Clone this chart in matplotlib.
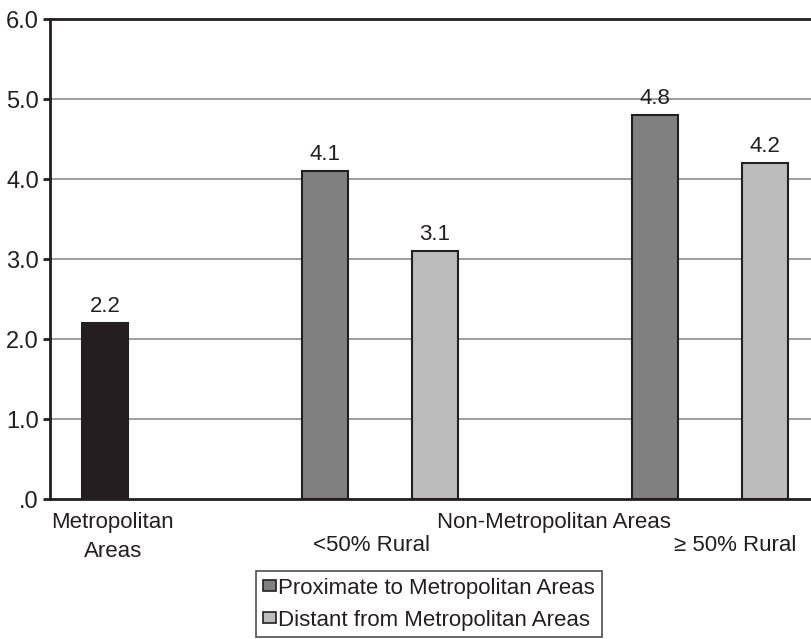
import matplotlib
matplotlib.use("Agg")
import matplotlib.pyplot as plt
from matplotlib.patches import Patch

plt.rcParams["font.family"] = ["Liberation Sans", "DejaVu Sans"]

# Data
groups = ["Metropolitan Areas", "<50% Rural Proximate", "<50% Rural Distant",
          "≥ 50% Rural Proximate", "≥ 50% Rural Distant"]
values = [2.2, 4.1, 3.1, 4.8, 4.2]
value_labels = ["2.2", "4.1", "3.1", "4.8", "4.2"]
positions = [0, 2, 3, 5, 6]
y_ticks = [0, 1, 2, 3, 4, 5, 6]
y_tick_labels = [".0", "1.0", "2.0", "3.0", "4.0", "5.0", "6.0"]
legend_labels = ["Proximate to Metropolitan Areas", "Distant from Metropolitan Areas"]

ink = "#231f20"
c_metro = "#231f20"
c_prox = "#808080"
c_dist = "#bcbcbc"
colors = [c_metro, c_prox, c_dist, c_prox, c_dist]
fs = 16

fig = plt.figure(figsize=(8.12, 6.39), dpi=100)
ax = fig.add_axes([50 / 812, 140 / 639, 770 / 812, 480 / 639])

ax.bar(positions, values, width=0.42, color=colors, edgecolor=ink,
       linewidth=1.5, zorder=3)
for x, v, t in zip(positions, values, value_labels):
    ax.text(x, v + 0.08, t, ha="center", va="bottom", fontsize=fs, color=ink)

ax.set_xlim(-0.5, 6.5)
ax.set_ylim(0, 6)
ax.set_yticks(y_ticks)
ax.set_yticklabels(y_tick_labels, fontsize=17, color=ink)
ax.set_xticks([])
for y in y_ticks[1:-1]:
    ax.axhline(y, color="#8c8c8c", linewidth=1.2, zorder=1)
ax.tick_params(axis="y", direction="out", length=5, width=2, color=ink, pad=3)
for s in ["left", "bottom", "top"]:
    ax.spines[s].set_color(ink)
    ax.spines[s].set_linewidth(2)
ax.spines["right"].set_visible(False)

# Category labels below the axis
tr = ax.get_xaxis_transform()
ax.text(0.07, -0.028, "Metropolitan\nAreas", transform=tr, ha="center", va="top",
        fontsize=fs, color=ink, linespacing=1.45)
ax.text(4.08, -0.028, "Non-Metropolitan Areas", transform=tr, ha="center", va="top",
        fontsize=fs, color=ink)
ax.text(2.42, -0.074, "<50% Rural", transform=tr, ha="center", va="top",
        fontsize=fs, color=ink)
ax.text(5.73, -0.074, "≥ 50% Rural", transform=tr, ha="center", va="top",
        fontsize=fs, color=ink)

handles = [Patch(facecolor=c_prox, edgecolor=ink, linewidth=1.2),
           Patch(facecolor=c_dist, edgecolor=ink, linewidth=1.2)]
leg = fig.legend(handles, legend_labels, loc="upper left",
                 bbox_to_anchor=(256 / 812, 1 - 571 / 639), fontsize=fs,
                 frameon=True, fancybox=False, handlelength=0.6, handleheight=0.4,
                 handletextpad=0.1, borderpad=0.3, labelspacing=0.5,
                 borderaxespad=0)
leg.get_frame().set_edgecolor(ink)
leg.get_frame().set_linewidth(1.2)
for t in leg.get_texts():
    t.set_color(ink)

fig.savefig("out.png", dpi=100)
